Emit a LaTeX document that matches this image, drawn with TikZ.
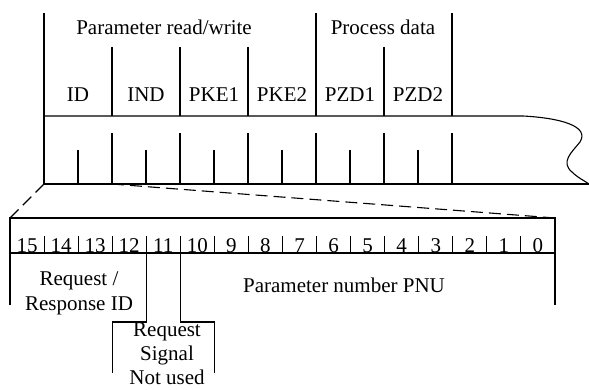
\documentclass[tikz,border=0pt]{standalone}
\usepackage{fontspec}
\setmainfont{Liberation Serif}
\usetikzlibrary{calc}

\begin{document}
\begin{tikzpicture}[x=1pt,y=-1pt,line width=1.1pt,
    lbl/.style={font=\fontsize{21}{25}\selectfont,inner sep=0pt,anchor=base}]
    \useasboundingbox (0,0) rectangle (589,390);
    \coordinate (tl) at (44,13);
    \coordinate (bl) at (44,184);
    \coordinate (br) at (589,184);
    \coordinate (ml) at (44,116);
    \coordinate (mr) at (523,116);

    % telegram
    \draw (tl) -- (bl) -- (br);
    \draw (ml) -- (mr) .. controls (560,118) and (590,126) .. (580,142)
        .. controls (572,152) and (560,162) .. (572,172)
        .. controls (578,178) and (585,181) .. (br);
    \foreach \x/\t in {112/47,180/47,248/47,316/13,384/47,452/13}
        \draw (\x,\t) -- (\x,116);
    \foreach \x in {112,180,...,452}
        \draw (\x,133) -- (\x,184);
    \foreach \x in {78,146,...,418}
        \draw (\x,150) -- (\x,184);
    \foreach \x/\t in {78/ID,146/IND,214/PKE1,282/PKE2,350/PZD1,418/PZD2}
        \node[lbl] (\t) at (\x,102) {\t};
    \node[lbl] (prw) at (164,35) {Parameter read/write};
    \node[lbl] (pd) at (383,35) {Process data};

    % PKE word
    \coordinate (wl) at (10,218);
    \coordinate (wr) at (555,218);
    \draw[dash pattern=on 12pt off 6pt] (bl) -- (wl);
    \draw[dash pattern=on 12pt off 6pt] (112,184) -- (wr);
    \draw (10,305) -- (wl) -- (wr) -- (555,305);
    \draw (10,253) -- (555,253);
    \foreach \i in {1,...,15}
        \draw ({10+34.06*\i},236) -- ({10+34.06*\i},253);
    \foreach \i in {0,...,15}
        \node[lbl] (b\i) at ({10+34.06*(15-\i)+17.03},252) {\i};

    \draw (146.2,253) -- (146.2,322) -- (112.2,322) -- (112.2,373);
    \draw (180.3,253) -- (180.3,322) -- (214.4,322) -- (214.4,373);
    \node[lbl] (ak1) at (79,285) {Request /};
    \node[lbl] (ak2) at (79,310) {Response ID};
    \node[lbl] (pnu) at (344,292) {Parameter number PNU};
    \node[lbl] (sp1) at (167,336) {Request};
    \node[lbl] (sp2) at (167,360) {Signal};
    \node[lbl] (sp3) at (167,384) {Not used};
\end{tikzpicture}
\end{document}
